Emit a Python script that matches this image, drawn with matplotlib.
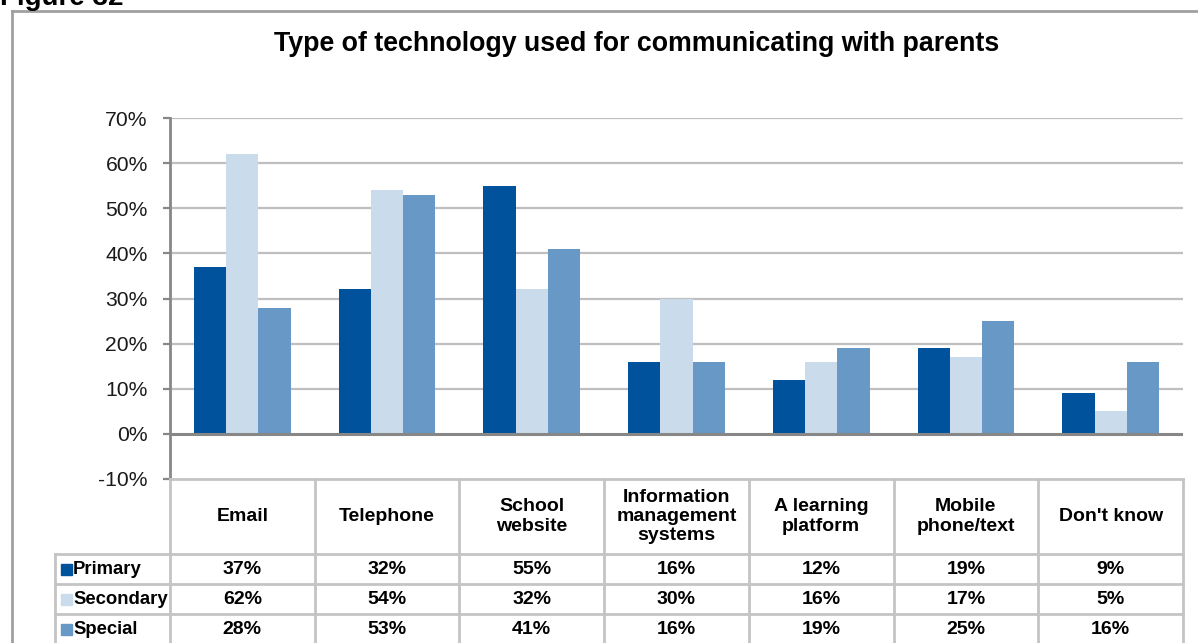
import numpy as np
import matplotlib.pyplot as plt
from matplotlib.lines import Line2D
from matplotlib.patches import Rectangle
from matplotlib.transforms import blended_transform_factory

plt.rcParams['font.family'] = ['Liberation Sans', 'DejaVu Sans']

# data
categories = ['Email', 'Telephone', 'School\nwebsite', 'Information\nmanagement\nsystems',
              'A learning\nplatform', 'Mobile\nphone/text', "Don't know"]
series = ['Primary', 'Secondary', 'Special']
primary = [37, 32, 55, 16, 12, 19, 9]
secondary = [62, 54, 32, 30, 16, 17, 5]
special = [28, 53, 41, 16, 19, 25, 16]
yticks = [-10, 0, 10, 20, 30, 40, 50, 60, 70]

colors = ['#00529C', '#CADCEB', '#6898C5']
grid_c = '#BFBFBF'
axis_c = '#878787'

W, H = 1198, 643
fig = plt.figure(figsize=(W / 100, H / 100), dpi=100)

def fx(px):
    return px / W

def fy(py):
    return 1 - py / H

# plot area in pixels
left, right, top, bottom = 170, 1183, 118, 479
ax = fig.add_axes([fx(left), fy(bottom), fx(right - left), (bottom - top) / H])

x = np.arange(len(categories))
w = 0.2225
for i, vals in enumerate([primary, secondary, special]):
    ax.bar(x + (i - 1) * w, vals, width=w, color=colors[i], edgecolor='none', zorder=3)

ax.set_xlim(-0.5, len(categories) - 0.5)
ax.set_ylim(-10, 70)
ax.set_yticks(yticks)
ax.set_yticklabels([f'{t}%' for t in yticks], fontsize=15.2, color='#1a1a1a')
ax.set_xticks([])
for t in yticks[2:]:
    ax.axhline(t, color=grid_c, lw=1.6, zorder=1)
ax.axhline(0, color=axis_c, lw=2.2, zorder=4)
for s in ['top', 'right', 'bottom']:
    ax.spines[s].set_visible(False)
ax.spines['left'].set_color(axis_c)
ax.spines['left'].set_linewidth(2)
ax.tick_params(axis='y', length=5, width=1.6, color=axis_c, pad=11)

# data table below the plot
tr = blended_transform_factory(ax.transData, fig.transFigure)
tbl_c = '#C4C4C4'
head_top, head_bot = 479, 554
row_h = 30
rows_y = [head_bot + k * row_h for k in range(4)]

fig.add_artist(Line2D([fx(left), fx(right)], [fy(head_top)] * 2, color=tbl_c, lw=2))
fig.add_artist(Line2D([fx(55), fx(right)], [fy(head_bot)] * 2, color=tbl_c, lw=2))
for yy in rows_y[1:]:
    fig.add_artist(Line2D([fx(55), fx(right)], [fy(yy)] * 2, color=tbl_c, lw=2))
for k in range(len(categories) + 1):
    fig.add_artist(Line2D([k - 0.5, k - 0.5], [fy(head_top), 0], transform=tr, color=tbl_c, lw=2))
fig.add_artist(Line2D([fx(55), fx(55)], [fy(head_bot), 0], color=tbl_c, lw=2))

for k, cat in enumerate(categories):
    fig.text(k, fy((head_top + head_bot) / 2), cat, transform=tr, ha='center', va='center',
             fontsize=14, fontweight='bold', linespacing=1.17)

for r, (name, vals) in enumerate(zip(series, [primary, secondary, special])):
    yc = fy(rows_y[r] + row_h / 2)
    fig.add_artist(Rectangle((fx(61), yc - 5.5 / H), 11 / W, 11 / H, color=colors[r]))
    fig.text(fx(73), yc, name, ha='left', va='center', fontsize=13.3, fontweight='bold')
    for k, v in enumerate(vals):
        fig.text(k, yc, f'{v}%', transform=tr, ha='center', va='center',
                 fontsize=14, fontweight='bold')

# outer frame and headings
fig.add_artist(Line2D([fx(12), fx(12)], [fy(11), 0], color='#A0A0A0', lw=2))
fig.add_artist(Line2D([fx(12), 1], [fy(11)] * 2, color='#A0A0A0', lw=2))
fig.text(fx(637), fy(44), 'Type of technology used for communicating with parents',
         ha='center', va='center', fontsize=19.3, fontweight='bold')
fig.text(fx(0), fy(5), 'Figure 32', ha='left', va='baseline', fontsize=20, fontweight='bold')

fig.savefig('out.png', dpi=100)
